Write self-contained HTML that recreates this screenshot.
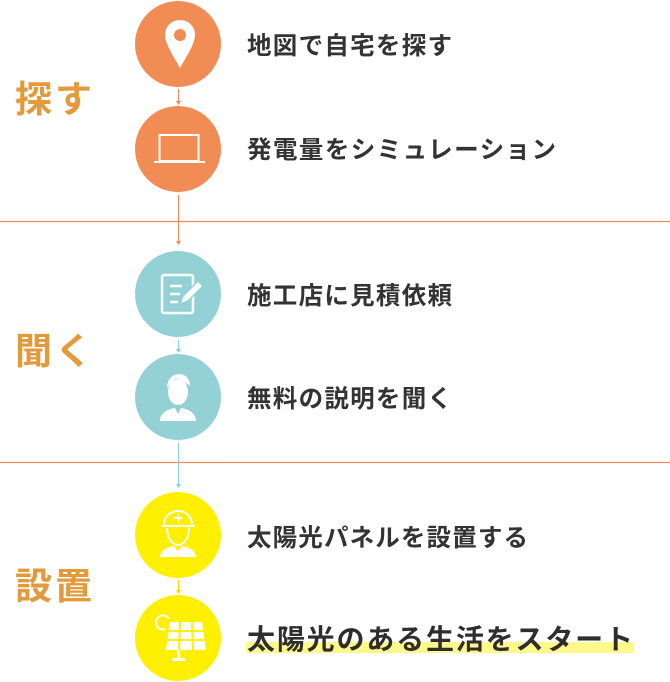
<!DOCTYPE html>
<html><head><meta charset="utf-8"><style>
html,body{margin:0;padding:0;background:#fff;width:670px;height:682px;overflow:hidden}
svg{display:block}
.t{font-family:"Liberation Sans","Noto Sans CJK JP",sans-serif;font-weight:bold;fill:#333;font-size:24.5px}
.s{font-family:"Liberation Sans","Noto Sans CJK JP",sans-serif;font-weight:bold;fill:#E39A3B;font-size:37px}
</style></head><body>
<svg width="670" height="682" viewBox="0 0 670 682" xmlns="http://www.w3.org/2000/svg">
<line x1="0" y1="221.5" x2="670" y2="221.5" stroke="#EE8A55" stroke-width="1.2"/>
<line x1="0" y1="462.5" x2="670" y2="462.5" stroke="#EE8A55" stroke-width="1.2"/>
<g stroke-width="1" fill="none">
<line x1="178.5" y1="89" x2="178.5" y2="104" stroke="#EE8A55"/>
<line x1="178.5" y1="195" x2="178.5" y2="243" stroke="#EE8A55"/>
<line x1="178.5" y1="340" x2="178.5" y2="352" stroke="#8DCFD3"/>
<line x1="178.5" y1="443" x2="178.5" y2="486" stroke="#8DCFD3"/>
<line x1="178.5" y1="580" x2="178.5" y2="592" stroke="#EED800"/>
</g>
<g>
<path d="M176 101h5l-2.5 4z" fill="#EE8A55"/>
<path d="M176 241h5l-2.5 4z" fill="#EE8A55"/>
<path d="M176 349h5l-2.5 4z" fill="#8DCFD3"/>
<path d="M176 484h5l-2.5 4z" fill="#8DCFD3"/>
<path d="M176 590h5l-2.5 4z" fill="#EED800"/>
</g>
<circle cx="178" cy="44" r="43" fill="#F28C55"/>
<circle cx="178" cy="149" r="43" fill="#F28C55"/>
<circle cx="178" cy="294" r="43" fill="#93D1D4"/>
<circle cx="178" cy="397" r="43" fill="#93D1D4"/>
<circle cx="178" cy="535" r="43" fill="#FFEF00"/>
<circle cx="178" cy="638" r="43" fill="#FFEF00"/>
<path d="M180 20c-9 0-15 7-15 15 0 9 9 22 15 33 6-11 15-24 15-33 0-8-6-15-15-15z" fill="#fff"/>
<circle cx="180" cy="35" r="6" fill="#F28C55"/>
<g stroke="#fff" stroke-width="2" fill="none">
<rect x="159.5" y="135" width="39" height="26"/>
<line x1="154" y1="162" x2="205" y2="162"/>
</g>
<g stroke="#fff" stroke-width="2.5" fill="none">
<rect x="162" y="275" width="31" height="38" rx="2"/>
<line x1="170" y1="286" x2="182" y2="286"/>
<line x1="170" y1="294" x2="180" y2="294"/>
<line x1="170" y1="302" x2="178" y2="302"/>
</g>
<path d="M180 304l3-8 15-15 5 5-15 15z" fill="#fff" stroke="#93D1D4" stroke-width="1.5"/>
<path d="M160 421c0-8 8-12 15-13l3 6 3-6c7 1 15 5 15 13z" fill="#fff"/>
<ellipse cx="178" cy="392" rx="10" ry="13" fill="#fff"/>
<path d="M167 388c0-9 6-14 12-14s11 4 11 12c-4-4-10-5-14-8-3 3-6 6-9 10z" fill="#fff"/>
<g stroke="#fff" stroke-width="2" fill="none">
<path d="M164 525c0-8 6-14 14-14s14 6 14 14"/>
<line x1="161" y1="526" x2="195" y2="526"/>
<path d="M167 528c0 10 5 17 11 17s11-7 11-17"/>
<line x1="178" y1="514" x2="178" y2="522"/><line x1="174" y1="518" x2="182" y2="518"/>
</g>
<path d="M160 557c0-7 8-10 14-11l4 5 4-5c6 1 14 4 14 11z" fill="#fff"/>
<g stroke="#fff" stroke-width="2" fill="none">
<path d="M165 629a7 7 0 1 1 4 -10" />
</g>
<g fill="#fff">
<path d="M170 622h32l4 28h-40z"/>
<rect x="177" y="650" width="3" height="9"/>
<rect x="172" y="658" width="13" height="3"/>
</g>
<g stroke="#FFEF00" stroke-width="2">
<line x1="180" y1="622" x2="179" y2="650"/><line x1="192" y1="622" x2="193" y2="650"/>
<line x1="169" y1="631" x2="204" y2="631"/><line x1="168" y1="640" x2="205" y2="640"/>
</g>
<text class="s" x="15" y="112" textLength="77" lengthAdjust="spacing">探す</text>
<text class="s" x="15" y="364" textLength="77" lengthAdjust="spacing">聞く</text>
<text class="s" x="15" y="599" textLength="77" lengthAdjust="spacing">設置</text>
<text class="t" x="247" y="54" textLength="205" lengthAdjust="spacing">地図で自宅を探す</text>
<text class="t" x="247" y="158" textLength="309" lengthAdjust="spacing">発電量をシミュレーション</text>
<text class="t" x="247" y="304" textLength="205" lengthAdjust="spacing">施工店に見積依頼</text>
<text class="t" x="247" y="407" textLength="205" lengthAdjust="spacing">無料の説明を聞く</text>
<text class="t" x="247" y="546" textLength="281" lengthAdjust="spacing">太陽光パネルを設置する</text>
<rect x="246" y="642" width="388" height="11" fill="#FFF98A"/>
<text class="t" x="247" y="649" style="font-size:28px;fill:#2e2e2e" textLength="386" lengthAdjust="spacing">太陽光のある生活をスタート</text>
</svg>
</body></html>
